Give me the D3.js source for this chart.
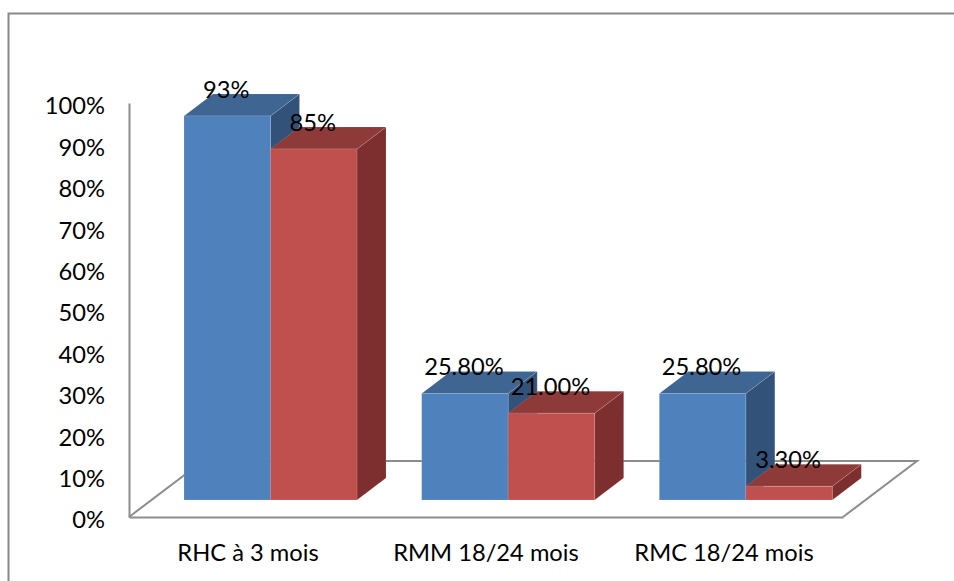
<!DOCTYPE html>
<html>
<head>
<meta charset="utf-8">
<script src="https://cdn.jsdelivr.net/npm/d3@7"></script>
<style>
  html, body { margin: 0; padding: 0; background: #fff; }
  svg { display: block; }
  text { font-family: Lato, "Open Sans", sans-serif; fill: #000; }
  .axis text { font-size: 23.7px; }
  .bar-label { font-size: 23.7px; text-anchor: middle; }
  .axis path, .floor { stroke: #8c8c8c; stroke-width: 2px; fill: none; }
</style>
</head>
<body>
<script>
const categories = ["RHC à 3 mois", "RMM 18/24 mois", "RMC 18/24 mois"];
const seriesNames = ["A", "B"];
const seriesA = [93, 25.8, 25.8];
const seriesB = [85, 21, 3.3];
const labelsA = ["93%", "25.80%", "25.80%"];
const labelsB = ["85%", "21.00%", "3.30%"];
const yTicks = [0, 10, 20, 30, 40, 50, 60, 70, 80, 90, 100];

const width = 954, height = 581;

// Colours: front, top, side
const shades = {
  A: ["#4f81bd", "#3f6592", "#33527a"],
  B: ["#c0504d", "#8e3a38", "#7c2f2e"]
};

let svg = d3.select("body").append("svg")
  .attr("width", width)
  .attr("height", height);

// Outer frame
svg.append("path")
  .attr("d", "M8.5,581V13.5H954")
  .attr("fill", "none")
  .attr("stroke", "#888")
  .attr("stroke-width", 2);

// Scales
let axisY = d3.scaleLinear().domain([0, 100]).range([517, 103]);
let axisX = d3.scaleBand().domain(categories).range([129, 843]);
let barY = d3.scaleLinear().domain([0, 100]).range([500, 87]);
let barX = d3.scaleBand().domain(categories).range([152, 865]);
let subX = d3.scaleBand().domain(seriesNames).range([32, 205]);

// Depth of the fake 3D
const floorDx = 74, floorDy = -56;
const barDx = 29, barDy = -22;

// Floor
svg.append("path")
  .attr("class", "floor")
  .attr("d", d3.line()([
    [axisX.range()[0], axisY(0)],
    [axisX.range()[0] + floorDx, axisY(0) + floorDy],
    [axisX.range()[1] + floorDx, axisY(0) + floorDy],
    [axisX.range()[1], axisY(0)]
  ]));

// Axes
svg.append("g")
  .attr("class", "axis")
  .attr("transform", "translate(129,0)")
  .call(d3.axisLeft(axisY).tickValues(yTicks).tickSize(0).tickPadding(24).tickFormat(d => d + "%"))
  .selectAll("text")
  .attr("dy", "0.46em");

svg.append("g")
  .attr("class", "axis")
  .attr("transform", "translate(0,517)")
  .call(d3.axisBottom(axisX).tickSize(0).tickPadding(27));

function drawBar(cat, name, value) {
  let x0 = barX(cat) + subX(name);
  let x1 = x0 + subX.bandwidth();
  let y0 = barY(0);
  let y1 = barY(value);
  let c = shades[name];
  let g = svg.append("g")
    .attr("stroke", "#fff")
    .attr("stroke-opacity", 0.12)
    .attr("stroke-width", 1);

  // Side
  g.append("path")
    .attr("fill", c[2])
    .attr("d", d3.line()([[x1, y0], [x1 + barDx, y0 + barDy], [x1 + barDx, y1 + barDy], [x1, y1]]) + "Z");
  // Top
  g.append("path")
    .attr("fill", c[1])
    .attr("d", d3.line()([[x0, y1], [x0 + barDx, y1 + barDy], [x1 + barDx, y1 + barDy], [x1, y1]]) + "Z");
  // Front
  g.append("rect")
    .attr("fill", c[0])
    .attr("x", x0)
    .attr("y", y1)
    .attr("width", x1 - x0)
    .attr("height", y0 - y1);
}

// Bars, left to right so the red block sits on top of the blue side
categories.forEach((cat, i) => {
  drawBar(cat, "A", seriesA[i]);
  drawBar(cat, "B", seriesB[i]);
});

// Value labels last, they overlap the bars
categories.forEach((cat, i) => {
  [[ "A", seriesA[i], labelsA[i] ], [ "B", seriesB[i], labelsB[i] ]].forEach(([name, v, label]) => {
    svg.append("text")
      .attr("class", "bar-label")
      .attr("x", barX(cat) + subX(name) + subX.bandwidth() / 2 - 1)
      .attr("y", barY(v) - 18)
      .text(label);
  });
});
</script>
</body>
</html>
